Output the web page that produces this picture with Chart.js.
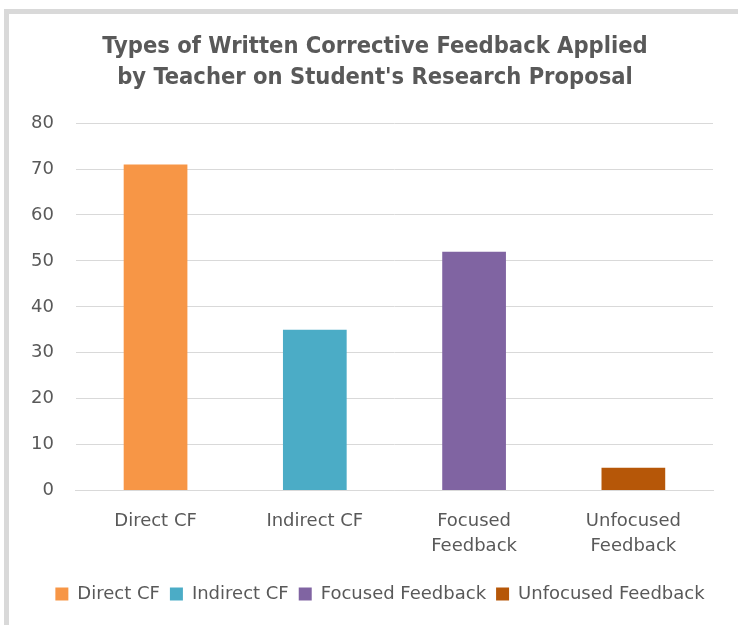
<!DOCTYPE html>
<html>
<head>
<meta charset="utf-8">
<script src="https://cdn.jsdelivr.net/npm/chart.js@4/dist/chart.umd.min.js"></script>
<style>
    body { margin: 0; background: #fff; }
    .frame {
        position: absolute; left: 4px; top: 9px; width: 740px; height: 620px;
        border-top: 5px solid #d9d9d9; border-left: 5px solid #d9d9d9;
        background: #fff;
    }
    .wrap { position: absolute; left: 9px; top: 14px; width: 729px; height: 611px; }
</style>
</head>
<body>
<div class="frame"></div>
<div class="wrap"><canvas id="feedbackChart"></canvas></div>
<script>
// Chart data
const categories = ['Direct CF', 'Indirect CF', 'Focused Feedback', 'Unfocused Feedback'];
const tickLabels = [['Direct CF'], ['Indirect CF'], ['Focused', 'Feedback'], ['Unfocused', 'Feedback']];
const counts = [71, 35, 52, 5];
const barColors = ['#f79646', '#4bacc6', '#8064a2', '#b65708'];

const textColor = '#595959';
const fontFamily = '"DejaVu Sans", sans-serif';
const titleFamily = '"DejaVu Sans Condensed", "DejaVu Sans", sans-serif';

// the original frame runs past the right edge, so title and legend sit a bit right of centre
const shiftBlocks = {
    id: 'shiftBlocks',
    afterLayout(chart) {
        if (chart.titleBlock) {
            chart.titleBlock.left += 14;
            chart.titleBlock.right += 14;
        }
        if (chart.legend) {
            chart.legend.left += 19;
            chart.legend.right += 19;
        }
    }
};

new Chart(document.getElementById('feedbackChart'), {
    type: 'bar',
    data: {
        labels: tickLabels,
        datasets: [{
            label: 'Count',
            data: counts,
            backgroundColor: barColors,
            barPercentage: 0.4,
            categoryPercentage: 1
        }]
    },
    options: {
        responsive: true,
        maintainAspectRatio: false,
        animation: false,
        layout: { padding: { left: 0, right: 25, top: 0, bottom: 12 } },
        plugins: {
            title: {
                display: true,
                text: ['Types of Written Corrective Feedback Applied', "by Teacher on Student's Research Proposal"],
                color: textColor,
                font: { family: titleFamily, size: 23.5, weight: 'bold', lineHeight: 1.3 },
                padding: { top: 18, bottom: 30 }
            },
            legend: {
                position: 'bottom',
                labels: {
                    color: textColor,
                    font: { family: fontFamily, size: 18 },
                    boxWidth: 13,
                    boxHeight: 13,
                    padding: 10,
                    generateLabels: function() {
                        return categories.map((name, i) => ({
                            text: name,
                            fillStyle: barColors[i],
                            strokeStyle: barColors[i],
                            lineWidth: 0,
                            fontColor: textColor,
                            index: i
                        }));
                    }
                },
                onClick: null
            },
            tooltip: { enabled: false }
        },
        scales: {
            x: {
                grid: { display: false },
                border: { color: '#d9d9d9', width: 1 },
                ticks: {
                    color: textColor,
                    font: { family: fontFamily, size: 18, lineHeight: 1.4 },
                    maxRotation: 0,
                    padding: 10
                },
                afterFit: function(scale) {
                    scale.height += 6;
                }
            },
            y: {
                min: 0,
                max: 80,
                grid: { color: '#d9d9d9', drawTicks: false },
                border: { display: false },
                ticks: {
                    stepSize: 10,
                    color: textColor,
                    font: { family: fontFamily, size: 18 },
                    padding: 22
                }
            }
        }
    },
    plugins: [shiftBlocks]
});
</script>
</body>
</html>
